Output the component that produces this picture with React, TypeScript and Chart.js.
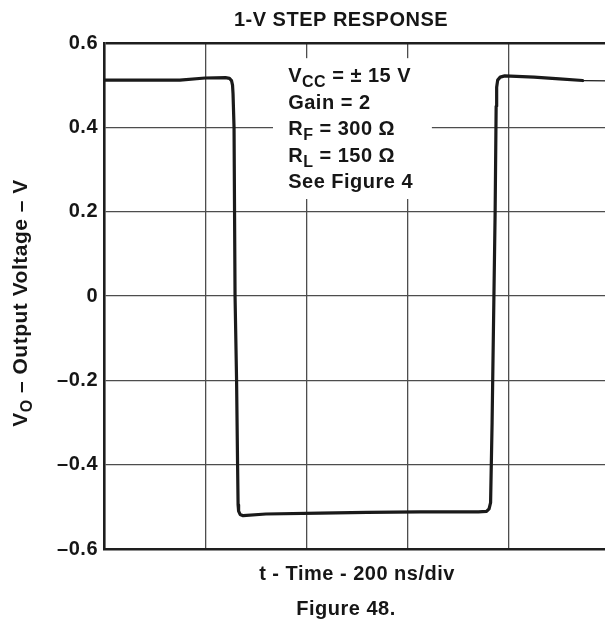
import React, { useEffect, useRef } from 'react';
import { Chart, registerables } from 'chart.js';

Chart.register(...registerables);

// ---- text ----
const TITLE = '1-V STEP RESPONSE';
const X_TITLE = 't - Time - 200 ns/div';
const CAPTION = 'Figure 48.';
const Y_TITLE_RUNS = [
  { t: 'V', sub: false },
  { t: 'O', sub: true },
  { t: ' – Output Voltage – V', sub: false },
];
const NOTE_LINES = [
  [{ t: 'V', sub: false }, { t: 'CC', sub: true }, { t: ' = ± 15 V', sub: false }],
  [{ t: 'Gain = 2', sub: false }],
  [{ t: 'R', sub: false }, { t: 'F', sub: true }, { t: ' = 300 Ω', sub: false }],
  [{ t: 'R', sub: false }, { t: 'L', sub: true }, { t: ' = 150 Ω', sub: false }],
  [{ t: 'See Figure 4', sub: false }],
];

// ---- axes ----
const X_MIN = 0;
const X_MAX = 1000; // ns, 200 ns/div
const X_STEP = 200;
const Y_MIN = -0.6;
const Y_MAX = 0.6;
const Y_STEP = 0.2;

// ---- data (time in ns, output voltage in V) ----
const stepTime = [0, 100, 150, 200, 240, 248, 252, 254, 255, 257, 259, 262, 264, 265, 266, 269, 275, 320, 427, 520, 625, 740, 756, 761, 764, 767, 773, 775, 776, 778, 783, 792, 850, 900, 946];
const stepVolts = [0.512, 0.512, 0.512, 0.517, 0.518, 0.516, 0.511, 0.5, 0.48, 0.4, 0, -0.2, -0.4, -0.495, -0.51, -0.518, -0.521, -0.517, -0.515, -0.513, -0.512, -0.512, -0.511, -0.505, -0.49, -0.3, 0.2, 0.45, 0.495, 0.512, 0.519, 0.522, 0.519, 0.515, 0.511];
const tailTime = [946, 1000];
const tailVolts = [0.511, 0.51];

// annotation box (in data units)
const NOTE_BOX_T = [334, 648];
const NOTE_BOX_V = [0.564, 0.23];
const NOTE_TEXT_T = 364;
const NOTE_FIRST_V = 0.5075;

const FONT = "'Liberation Sans', Arial, Helvetica, sans-serif";
const INK = '#161616';
const GRID = '#4d4d4d';

function drawRuns(ctx: CanvasRenderingContext2D, runs: { t: string; sub: boolean }[], x: number, y: number, size: number, subSize: number, subDrop: number, align: 'left' | 'center') {
  const widths = runs.map((r) => {
    ctx.font = `bold ${r.sub ? subSize : size}px ${FONT}`;
    return ctx.measureText(r.t).width;
  });
  const total = widths.reduce((a, b) => a + b, 0);
  let cx = align === 'center' ? x - total / 2 : x;
  runs.forEach((r, i) => {
    ctx.font = `bold ${r.sub ? subSize : size}px ${FONT}`;
    ctx.fillText(r.t, cx, y + (r.sub ? subDrop : 0));
    cx += widths[i];
  });
}

const textPlugin = {
  id: 'figureTexts',
  beforeDraw(chart: any) {
    (chart.ctx as any).letterSpacing = '0.5px';
  },
  beforeDatasetsDraw(chart: any) {
    const { ctx, scales } = chart;
    const x = scales.x;
    const y = scales.y;
    ctx.save();
    const bx0 = x.getPixelForValue(NOTE_BOX_T[0]);
    const bx1 = x.getPixelForValue(NOTE_BOX_T[1]);
    const by0 = y.getPixelForValue(NOTE_BOX_V[0]);
    const by1 = y.getPixelForValue(NOTE_BOX_V[1]);
    ctx.fillStyle = '#ffffff';
    ctx.fillRect(bx0, by0, bx1 - bx0, by1 - by0);
    ctx.fillStyle = INK;
    ctx.textAlign = 'left';
    ctx.textBaseline = 'alphabetic';
    (ctx as any).letterSpacing = '0.5px';
    const tx = x.getPixelForValue(NOTE_TEXT_T);
    const ty = y.getPixelForValue(NOTE_FIRST_V);
    NOTE_LINES.forEach((line, i) => {
      drawRuns(ctx, line, tx, ty + i * 26.5, 20, 16, 5, 'left');
    });
    ctx.restore();
  },
  afterDraw(chart: any) {
    const { ctx, chartArea } = chart;
    ctx.save();
    ctx.fillStyle = INK;
    ctx.textBaseline = 'alphabetic';
    ctx.textAlign = 'left';
    (ctx as any).letterSpacing = '0.5px';
    // title
    drawRuns(ctx, [{ t: TITLE, sub: false }], chartArea.left + 237, chartArea.top - 17, 20, 20, 0, 'center');
    // caption
    drawRuns(ctx, [{ t: CAPTION, sub: false }], chartArea.left + 242, chartArea.bottom + 66, 20, 20, 0, 'center');
    // y title (rotated)
    ctx.translate(27, (chartArea.top + chartArea.bottom) / 2 + 7);
    ctx.rotate(-Math.PI / 2);
    drawRuns(ctx, Y_TITLE_RUNS, 0, 0, 21, 16, 5, 'center');
    ctx.restore();
  },
};

function fmtTick(v: number): string {
  if (Math.abs(v) < 1e-9) return '0';
  const s = Math.abs(v).toFixed(1);
  return v < 0 ? '–' + s : s;
}

export default function App() {
  const canvasRef = useRef<HTMLCanvasElement | null>(null);

  useEffect(() => {
    const canvas = canvasRef.current;
    if (!canvas) return;
    const chart = new Chart(canvas, {
      type: 'line',
      data: {
        datasets: [
          {
            data: stepTime.map((t, i) => ({ x: t, y: stepVolts[i] })),
            borderColor: '#1a1a1a',
            borderWidth: 3.2,
            pointRadius: 0,
            tension: 0,
            borderJoinStyle: 'round',
            borderCapStyle: 'round',
            fill: false,
          },
          {
            data: tailTime.map((t, i) => ({ x: t, y: tailVolts[i] })),
            borderColor: '#1a1a1a',
            borderWidth: 1.2,
            pointRadius: 0,
            tension: 0,
            fill: false,
          },
        ],
      },
      options: {
        animation: false,
        responsive: false,
        devicePixelRatio: 1,
        layout: { padding: { left: 0, top: 43, right: 10, bottom: 0 } },
        plugins: {
          legend: { display: false },
          title: { display: false },
          tooltip: { enabled: false },
        },
        scales: {
          x: {
            type: 'linear',
            min: X_MIN,
            max: X_MAX,
            ticks: { display: false, stepSize: X_STEP },
            grid: { color: GRID, lineWidth: 1.3, drawTicks: false },
            border: { display: true, color: '#1e1e1e', width: 2.6 },
            title: {
              display: true,
              text: X_TITLE,
              color: INK,
              font: { family: FONT, size: 20, weight: 'bold' },
              padding: { top: 0, bottom: 33.5 },
            },
            afterFit: (scale: any) => {
              scale.height = 71;
            },
          },
          y: {
            type: 'linear',
            min: Y_MIN,
            max: Y_MAX,
            ticks: {
              stepSize: Y_STEP,
              padding: 6,
              color: INK,
              font: { family: FONT, size: 20, weight: 'bold' },
              callback: (v: any) => fmtTick(Number(v)),
            },
            grid: {
              drawTicks: false,
              color: (c: any) => (c.tick && Math.abs(c.tick.value - Y_MAX) < 1e-6 ? '#1e1e1e' : GRID),
              lineWidth: (c: any) => (c.tick && Math.abs(c.tick.value - Y_MAX) < 1e-6 ? 2.6 : 1.3),
            },
            border: { display: true, color: '#1e1e1e', width: 2.6 },
            afterFit: (scale: any) => {
              scale.width = 104;
            },
          },
        },
      } as any,
      plugins: [textPlugin as any],
    });
    return () => chart.destroy();
  }, []);

  return (
    <div style={{ position: 'fixed', left: 0, top: 0, width: 605, height: 620, overflow: 'hidden', background: '#ffffff' }}>
      <canvas ref={canvasRef} width={620} height={620} style={{ display: 'block', width: 620, height: 620 }} />
    </div>
  );
}
